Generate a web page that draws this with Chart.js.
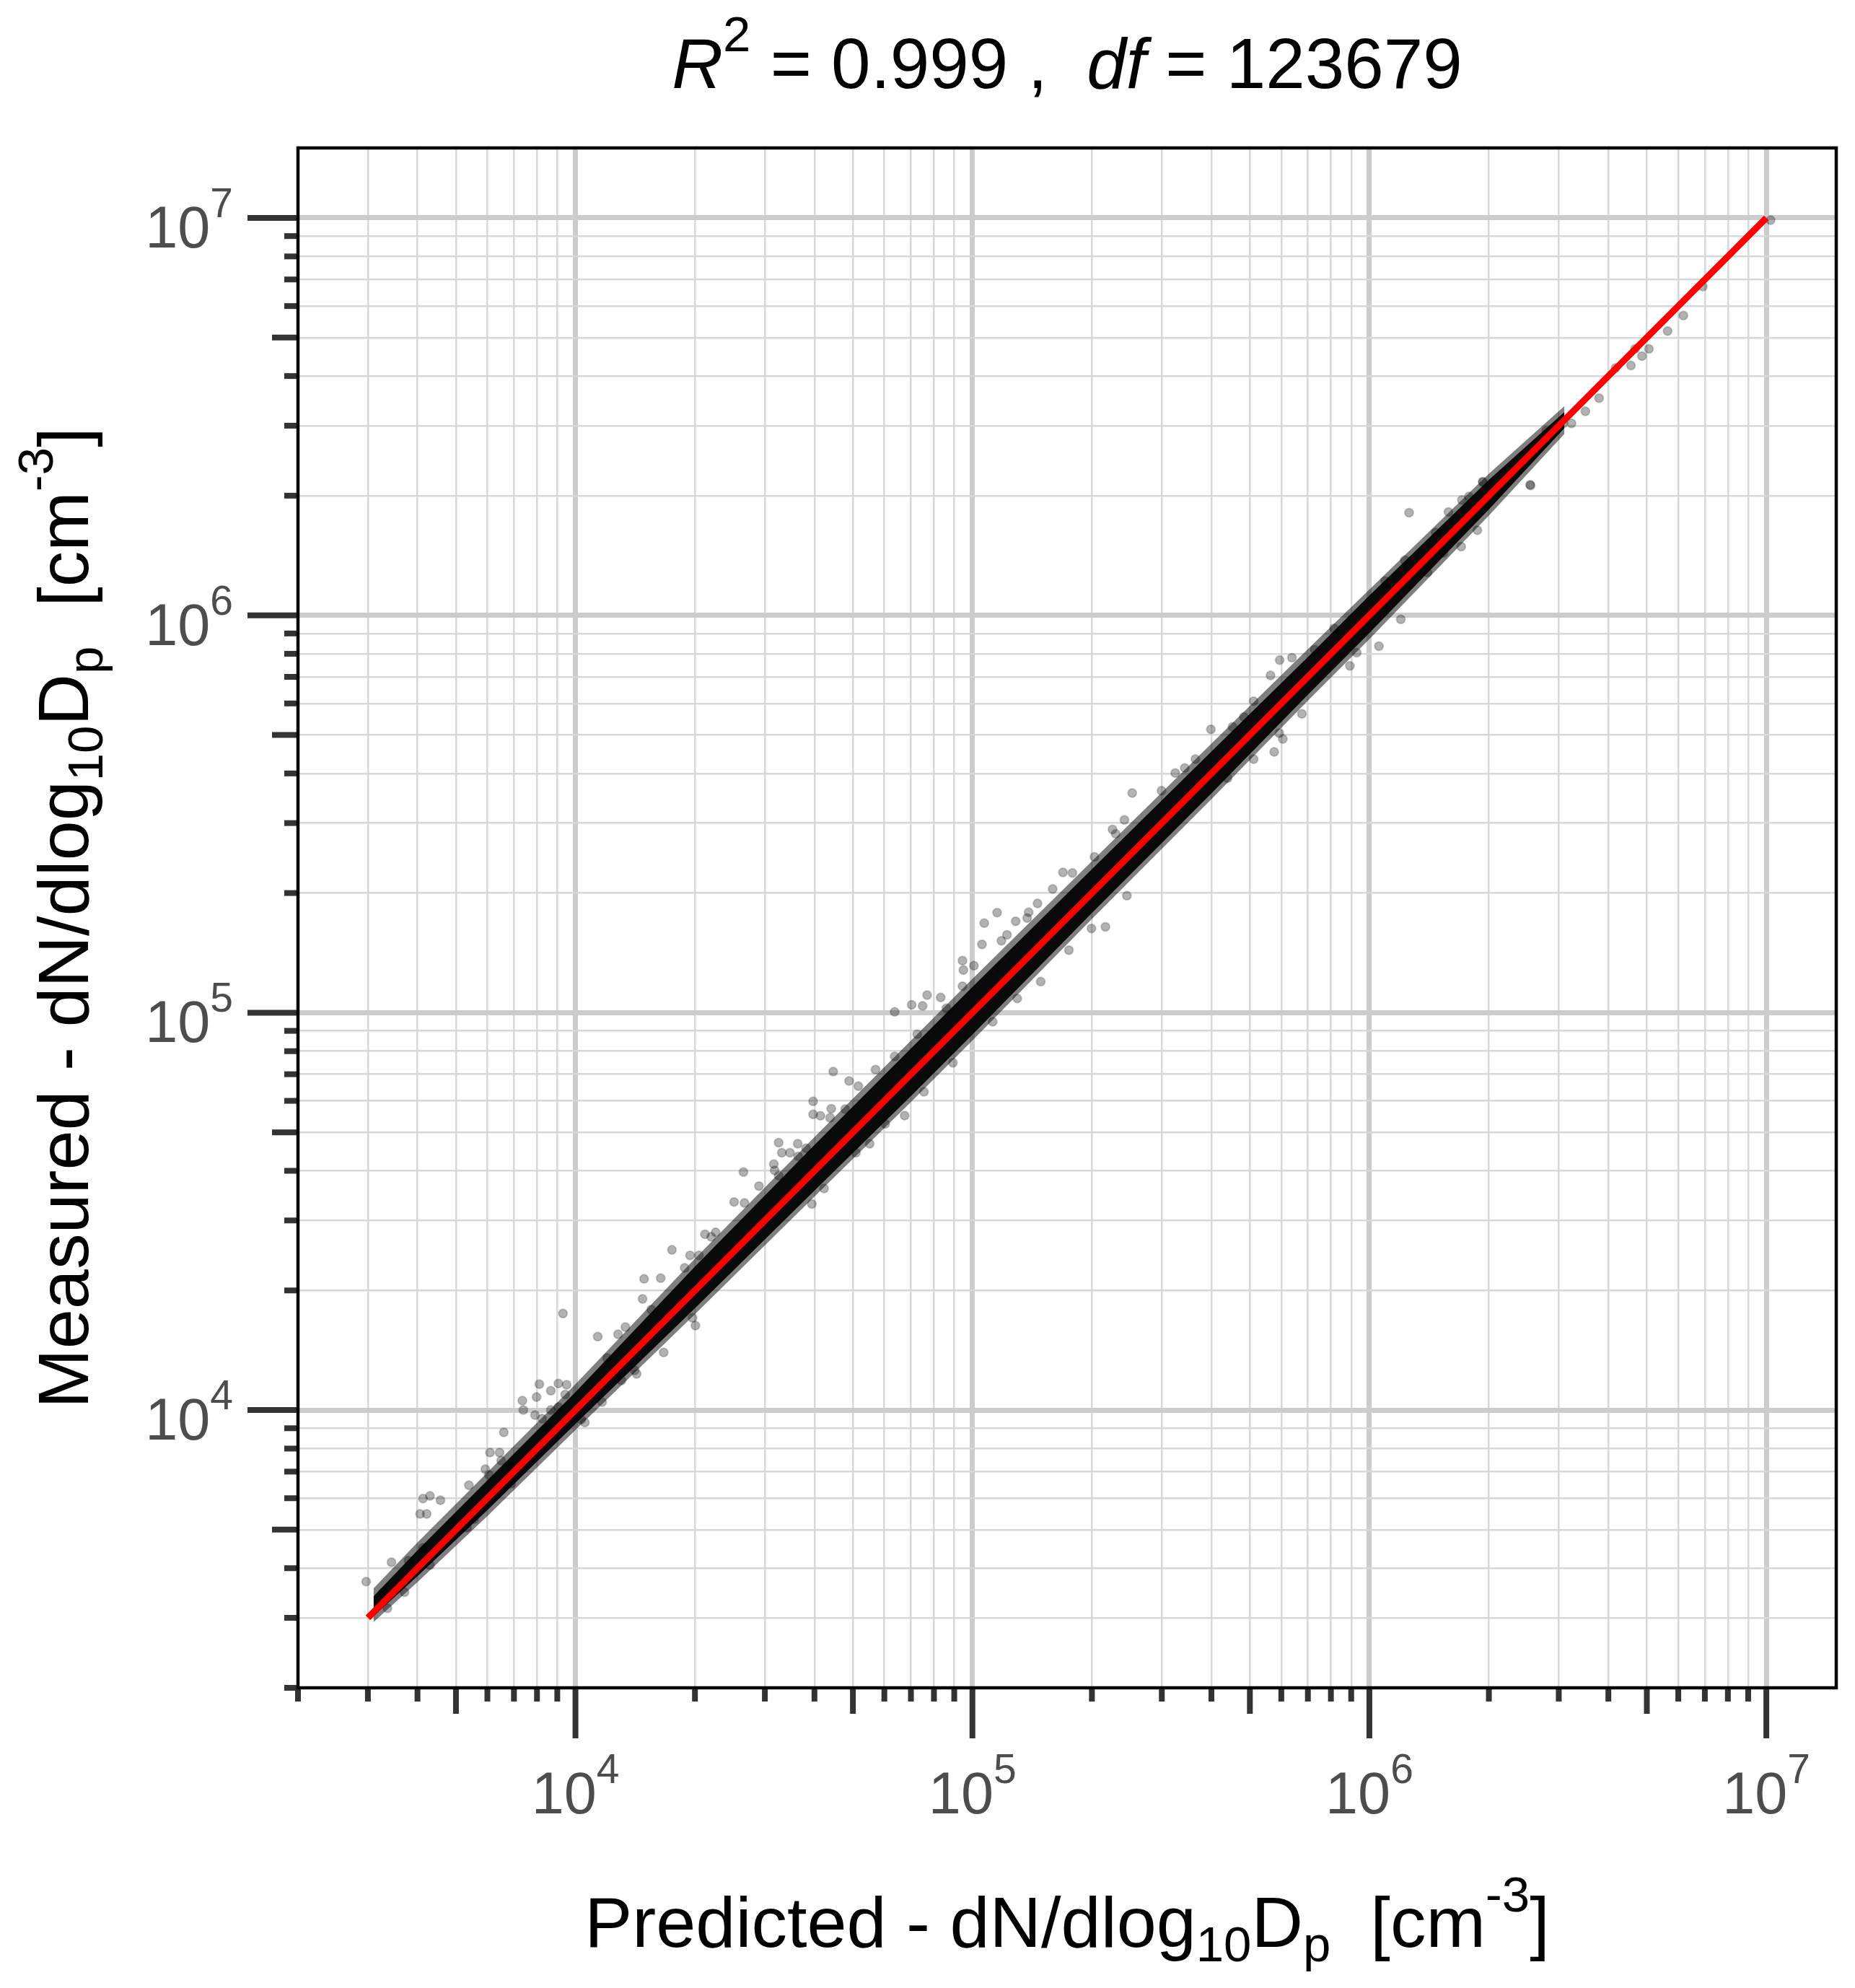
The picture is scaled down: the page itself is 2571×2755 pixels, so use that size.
<!DOCTYPE html>
<html>
<head>
<meta charset="utf-8">
<script src="https://cdn.jsdelivr.net/npm/chart.js@4.4.1/dist/chart.umd.min.js"></script>
<style>
  html, body { margin: 0; padding: 0; background: #ffffff; }
  #wrap { width: 2571px; height: 2755px; position: relative; }
</style>
</head>
<body>
<div id="wrap"><canvas id="myChart"></canvas></div>
<script>
// axis range and tick layout (log10 scale on both axes)
const axisMin = 2000;
const axisMax = 15000000;
const decades = [3, 4, 5, 6, 7];
const minorSteps = [1, 2, 3, 4, 5, 6, 7, 8, 9];
const labelledExponents = ['4', '5', '6', '7'];

const bandX    = [3100, 4000, 6000, 10000, 20000, 40000, 70000, 100000, 200000, 400000, 700000, 1000000, 2000000, 3100000];
const coreHigh = [3398, 4436, 6654, 11090, 22960, 46440, 81270, 116100, 229600, 454000, 785400, 1122000, 2192000, 3246000];
const coreLow  = [3029, 3820, 5598, 9230, 18040, 35640, 61670, 88100, 178200, 356400, 631400, 902000, 1846000, 2960000];
const haloHigh = [3559, 4644, 6966, 11610, 24040, 48640, 85120, 121600, 240400, 475600, 822500, 1161000, 2270000, 3360000];
const haloLow  = [2926, 3692, 5412, 8910, 17420, 34440, 59570, 85100, 172200, 344400, 609700, 871000, 1782000, 2861000];

// single points standing out of the cloud or sitting on its edge (predicted, measured)
const pointX = [
  2970, 3440, 3800, 4130, 4300, 4570, 4060, 4220, 5390, 6090, 6440, 6500, 5930, 6050, 6600, 7350, 7390, 7980, 8110, 8670,
  9060, 9500, 9420, 7910, 8240, 8670, 9060, 9300, 11380, 12800, 13360, 14890, 16400, 14760, 17500, 19440, 20470, 21200, 22550, 21980,
  16680, 19720, 14100, 13060, 11670, 10340, 5330, 4300, 3710, 3360,
  25100, 26660, 26500, 28990, 31600, 31750, 32500, 33100, 34700, 36300, 38100, 39700, 39700, 41400, 44100, 47800, 44600, 48900, 51600, 63700,
  70300, 74900, 76900, 83200, 94400, 94900, 100900, 94400, 105700, 107100, 115400, 122200, 128500, 138600, 145900, 169100, 178600, 225400, 229600, 252700,
  39400, 55100, 67500, 112500, 148600, 199500, 216300,
  342800, 324400, 398700, 452000, 563600, 594300, 638300, 1259000, 1228000, 1469000, 1582000, 1782000, 1932000,
  575800, 605300, 1200000, 1703000, 1871000, 2548000,
  5640000, 6180000, 6920000, 5060000, 4860000, 4560000, 4670000, 4170000, 3790000, 3500000, 3230000, 3080000, 1930000, 1710000, 2540000, 2790000, 10250000,
  1096000, 815000, 728000, 511000, 483000, 364600, 299500, 241500,
  1057000, 893000, 929000, 676000, 593000, 511000, 439500, 1400000, 1537000,
  57000, 63700, 72600, 86000, 118300, 137400, 159300, 203000, 43800, 36400, 32500,
  89300, 75500, 60300, 50900, 42300, 129700, 175000, 245000,
  4900, 6890, 8530, 12020, 15520, 18840, 3270, 4130,
  5560, 6890, 10560, 14260, 20050
];
const pointY = [
  3700, 4140, 4180, 5990, 6080, 5930, 5480, 5480, 6470, 7820, 7820, 7460, 7100, 6870, 8790, 10560, 10000, 10780, 11620, 11190,
  11670, 11580, 10940, 9710, 9510, 10000, 10170, 17500, 15310, 15520, 16180, 21380, 21480, 19050, 25300, 24500, 24500, 27700, 28000, 27290,
  13960, 17060, 12590, 11870, 10470, 9460, 5060, 4070, 3480, 3170,
  33400, 33200, 39700, 36600, 41600, 40100, 47100, 44400, 44400, 46800, 45600, 59800, 55500, 55000, 57300, 57200, 71100, 67300, 65300, 100500,
  104700, 104000, 110700, 109200, 135200, 128000, 131300, 116600, 148500, 168000, 178600, 157000, 169800, 179000, 188400, 225400, 224700, 289000, 281800, 357200,
  33000, 46800, 55100, 94900, 119700, 162900, 164400,
  413000, 401000, 516500, 523800, 706000, 771000, 782000, 1812000, 1377000, 1615000, 1820000, 1991000, 2163000,
  453300, 488300, 977000, 1489000, 1637000, 2122000,
  5190000, 5680000, 6720000, 4680000, 4490000, 4250000, 4680000, 4190000, 3520000, 3260000, 3040000, 3040000, 2170000, 1950000, 2130000, 2910000, 9870000,
  1219000, 927000, 820000, 608000, 555000, 434500, 362000, 305600,
  836000, 746000, 805000, 564800, 505000, 434500, 389000, 1282000, 1436000,
  71900, 77600, 88300, 102600, 151700, 173000, 204700, 246700, 54400, 43500, 38900,
  74800, 63200, 52500, 44400, 36100, 108600, 143600, 197000,
  5240, 7190, 8980, 13520, 17900, 22800, 3470, 4500,
  5320, 6530, 9310, 12330, 16310
];

// 1:1 reference line
const fitX = [3000, 10000000];
const fitY = [3000, 10000000];

const titleText = { r2: '0.999', df: '123679' };

const tickValues = decades
  .flatMap(d => minorSteps.map(m => m * Math.pow(10, d)))
  .filter(v => v >= axisMin && v <= axisMax);

function mantissa(v) {
  return Math.round(v / Math.pow(10, Math.floor(Math.log10(v) + 1e-9)));
}

const FONT = '"Liberation Sans", Arial, Helvetica, sans-serif';

function drawRich(ctx, parts, x, y, align, size, color) {
  const fonts = parts.map(p => (p.italic ? 'italic ' : '') + Math.round(size * (p.scale || 1)) + 'px ' + FONT);
  let total = 0;
  const widths = parts.map((p, i) => {
    ctx.font = fonts[i];
    const w = ctx.measureText(p.text).width;
    total += w;
    return w;
  });
  let cx = align === 'center' ? x - total / 2 : (align === 'right' ? x - total : x);
  ctx.textAlign = 'left';
  ctx.textBaseline = 'alphabetic';
  ctx.fillStyle = color;
  parts.forEach((p, i) => {
    ctx.font = fonts[i];
    ctx.fillText(p.text, cx, y + (p.shift || 0) * size);
    cx += widths[i];
  });
}

const decor = {
  id: 'decor',
  afterDraw(chart) {
    const { ctx, chartArea: a, scales: { x, y } } = chart;
    ctx.save();

    // tick marks outside the panel
    ctx.strokeStyle = '#333333';
    ctx.lineWidth = 8;
    ctx.lineCap = 'butt';
    tickValues.forEach(v => {
      const m = mantissa(v);
      const len = m === 1 ? 70 : (m === 5 ? 36 : 19);
      const px = x.getPixelForValue(v);
      ctx.beginPath(); ctx.moveTo(px, a.bottom); ctx.lineTo(px, a.bottom + len); ctx.stroke();
      const py = y.getPixelForValue(v);
      ctx.beginPath(); ctx.moveTo(a.left, py); ctx.lineTo(a.left - len, py); ctx.stroke();
    });

    // panel border
    ctx.strokeStyle = '#000000';
    ctx.lineWidth = 4.5;
    ctx.strokeRect(a.left, a.top, a.right - a.left, a.bottom - a.top);

    // tick labels 10^n
    labelledExponents.forEach(e => {
      const v = Math.pow(10, Number(e));
      const parts = [{ text: '10' }, { text: e, scale: 0.7, shift: -0.52 }];
      drawRich(ctx, parts, x.getPixelForValue(v), a.bottom + 174, 'center', 81, '#4d4d4d');
      drawRich(ctx, parts, a.left - 90, y.getPixelForValue(v) + 41, 'right', 81, '#4d4d4d');
    });

    // title
    const cxm = (a.left + a.right) / 2;
    drawRich(ctx, [
      { text: 'R', italic: true },
      { text: '2', scale: 0.7, shift: -0.52 },
      { text: ' = ' + titleText.r2 + ' ,  ' },
      { text: 'df', italic: true },
      { text: ' = ' + titleText.df }
    ], cxm, 122, 'center', 98, '#000000');

    // axis titles
    const axisParts = lead => [
      { text: lead + ' - dN/dlog' },
      { text: '10', scale: 0.7, shift: 0.2 },
      { text: 'D' },
      { text: 'p', scale: 0.7, shift: 0.2 },
      { text: '  [cm' },
      { text: '-3', scale: 0.7, shift: -0.5 },
      { text: ']' }
    ];
    drawRich(ctx, axisParts('Predicted'), cxm, 2698, 'center', 99, '#000000');

    ctx.translate(122, (a.top + a.bottom) / 2);
    ctx.rotate(-Math.PI / 2);
    drawRich(ctx, axisParts('Measured'), 0, 0, 'center', 99, '#000000');

    ctx.restore();
  }
};

const isMajor = c => c.tick && mantissa(c.tick.value) === 1;

const logAxis = {
  type: 'logarithmic',
  min: axisMin,
  max: axisMax,
  afterBuildTicks: s => { s.ticks = tickValues.map(v => ({ value: v })); },
  ticks: { display: false },
  border: { display: false },
  grid: {
    drawTicks: false,
    color: c => isMajor(c) ? '#cccccc' : '#d8d8d8',
    lineWidth: c => isMajor(c) ? 7 : 2.5
  }
};

const toXY = (xs, ys) => xs.map((v, i) => ({ x: v, y: ys[i] }));

const bandLine = (values, fill, color, order) => ({
  data: toXY(bandX, values),
  showLine: true,
  borderWidth: 0,
  borderColor: 'rgba(0,0,0,0)',
  pointRadius: 0,
  fill: fill,
  backgroundColor: color,
  order: order
});

const config = {
  type: 'scatter',
  data: {
    datasets: [
      {
        label: 'fit',
        data: toXY(fitX, fitY),
        showLine: true,
        borderColor: '#ff0000',
        borderWidth: 9,
        borderCapStyle: 'butt',
        pointRadius: 0,
        order: 0
      },
      {
        label: 'points',
        data: toXY(pointX, pointY),
        pointRadius: 6,
        pointBackgroundColor: 'rgba(0,0,0,0.3)',
        pointBorderColor: 'rgba(0,0,0,0.18)',
        pointBorderWidth: 2,
        order: 1
      },
      bandLine(haloHigh, '+1', 'rgba(0,0,0,0.5)', 4),
      bandLine(haloLow, false, 'rgba(0,0,0,0)', 4),
      bandLine(coreHigh, '+1', 'rgba(3,3,3,0.94)', 3),
      bandLine(coreLow, false, 'rgba(0,0,0,0)', 3)
    ]
  },
  options: {
    responsive: true,
    maintainAspectRatio: false,
    devicePixelRatio: 1,
    animation: false,
    events: [],
    layout: { padding: { left: 413, right: 26, top: 205, bottom: 416 } },
    scales: { x: logAxis, y: Object.assign({}, logAxis) },
    plugins: {
      legend: { display: false },
      tooltip: { enabled: false },
      title: { display: false }
    }
  },
  plugins: [decor]
};

const myChart = new Chart(document.getElementById('myChart'), config);
</script>
</body>
</html>
